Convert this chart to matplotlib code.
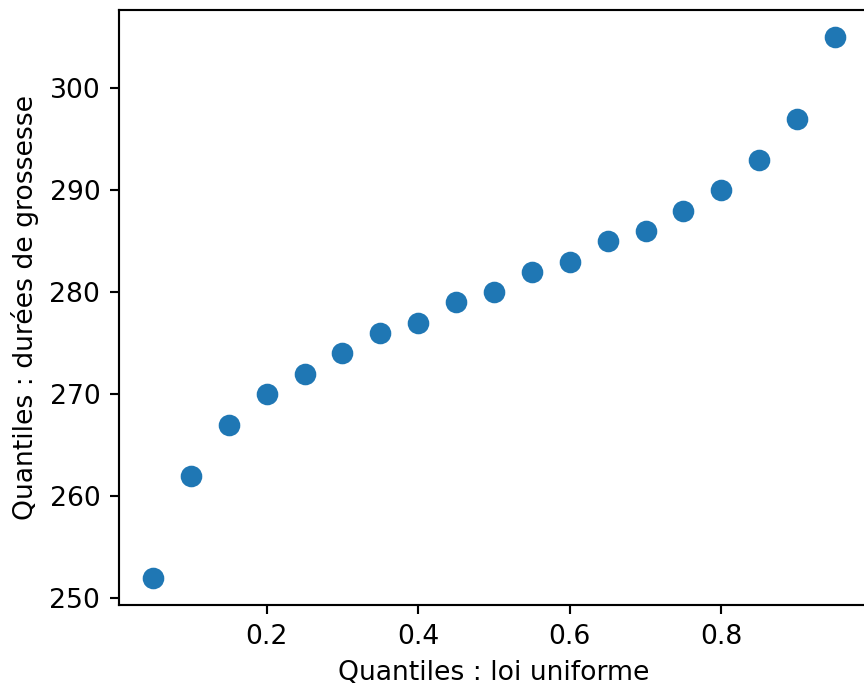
import matplotlib
matplotlib.use("Agg")
import matplotlib.pyplot as plt

x_quantiles = [0.05, 0.10, 0.15, 0.20, 0.25, 0.30, 0.35, 0.40, 0.45, 0.50,
               0.55, 0.60, 0.65, 0.70, 0.75, 0.80, 0.85, 0.90, 0.95]
y_durees = [252, 262, 267, 270, 272, 274, 276, 277, 279, 280,
            282, 283, 285, 286, 288, 290, 293, 297, 305]

DPI = 192
fig = plt.figure(figsize=(864 / DPI, 688 / DPI), dpi=DPI)
ax = fig.add_axes([119 / 864, 83 / 688, 750 / 864, 595 / 688])
ax.plot(x_quantiles, y_durees, 'o', markersize=7.1, color='#1f77b4')
ax.set_xlabel("Quantiles : loi uniforme")
ax.set_ylabel("Quantiles : durées de grossesse")
fig.savefig("out.png", dpi=DPI)
